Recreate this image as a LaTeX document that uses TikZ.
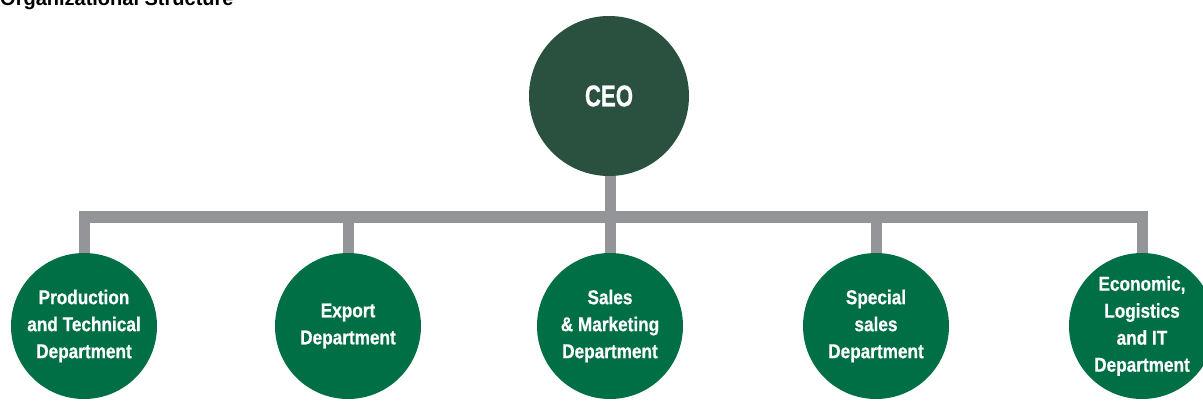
\documentclass[tikz,border=0pt]{standalone}
\usepackage{fontspec}
\setmainfont{Liberation Sans}
\newfontfamily\condfont{Liberation Sans}[FakeStretch=0.86,FakeBold=0.6]
\newfontfamily\ceofont{Liberation Sans}[FakeStretch=0.74,FakeBold=0.6]
\definecolor{ceogreen}{HTML}{2A5140}
\definecolor{deptgreen}{HTML}{006F45}
\definecolor{bargray}{HTML}{939598}
\begin{document}
\begin{tikzpicture}[x=1pt,y=1pt,
  ceo/.style={circle,fill=ceogreen,minimum size=160pt,inner sep=0pt,text=white,font=\ceofont\bfseries\fontsize{30}{32}\selectfont},
  dept/.style={circle,fill=deptgreen,minimum size=146pt,inner sep=0pt,text=white,align=center,font=\condfont\bfseries\fontsize{20}{27}\selectfont},
  bar/.style={draw=bargray,line width=11pt,line join=miter,line cap=butt}]
\clip (0,0) rectangle (1203,-401);
\fill[white] (0,0) rectangle (1203,-401);
\node[anchor=base west,inner sep=0pt,font=\bfseries\fontsize{20}{22}\selectfont] (title) at (0,-6) {Organizational Structure};
\coordinate (ceopos) at (609,-96);
\coordinate (d1pos) at (84,-326);
\coordinate (d2pos) at (348,-326);
\coordinate (d3pos) at (610,-326);
\coordinate (d4pos) at (876,-326);
\coordinate (d5pos) at (1142,-326);
\coordinate (bus) at (610,-217);
\draw[bar] (d1pos) |- (bus) -| (d5pos);
\draw[bar] (d2pos) -- (d2pos |- bus);
\draw[bar] (d4pos) -- (d4pos |- bus);
\draw[bar] (610,-96) -- (d3pos);
\node[ceo] (ceo) at (ceopos) {CEO};
\node[dept] (d1) at (d1pos) {Production\\and Technical\\Department};
\node[dept] (d2) at (d2pos) {Export\\Department};
\node[dept] (d3) at (d3pos) {Sales\\\&~Marketing\\Department};
\node[dept] (d4) at (d4pos) {Special\\sales\\Department};
\node[dept] (d5) at (d5pos) {Economic,\\Logistics\\and IT\\Department};
\end{tikzpicture}
\end{document}
